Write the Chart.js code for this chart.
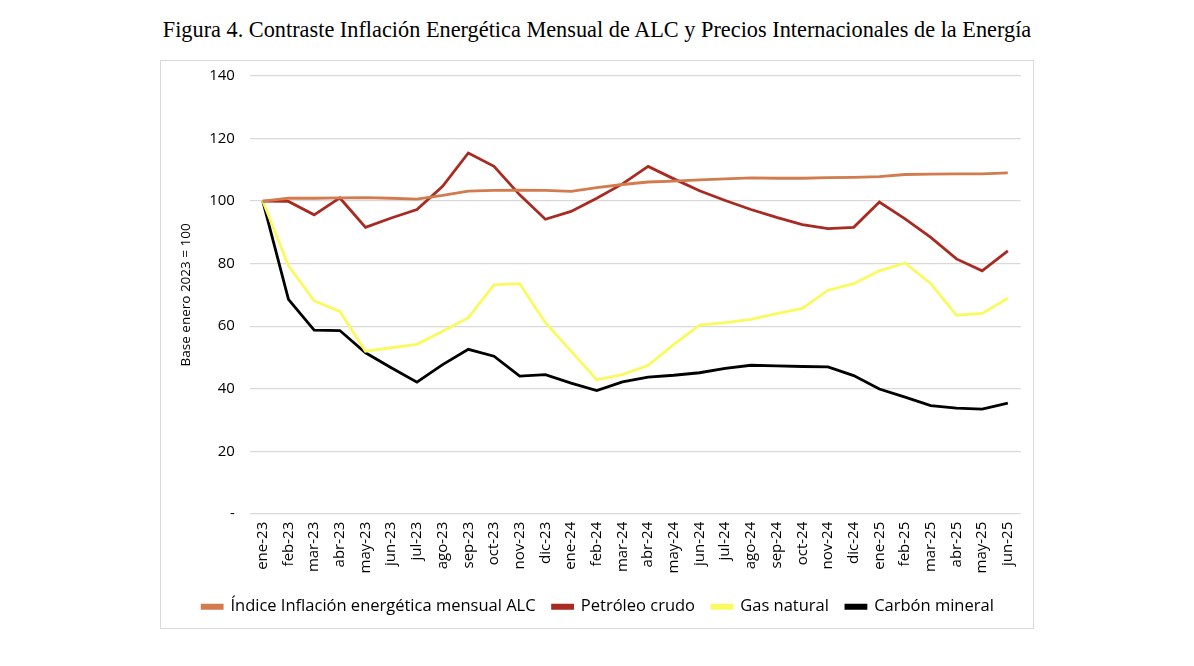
<!DOCTYPE html>
<html>
<head>
<meta charset="utf-8">
<script src="https://cdn.jsdelivr.net/npm/chart.js@4/dist/chart.umd.min.js"></script>
<style>
  body { margin: 0; background: #fff; width: 1194px; height: 666px; position: relative; }
  #titulo {
    position: absolute; left: 0; top: 17px; width: 1194px; text-align: center;
    font-family: "Liberation Serif", "DejaVu Serif", serif; font-size: 22.3px; color: #000;
  }
  #caja {
    position: absolute; left: 160px; top: 60px; width: 874px; height: 569px;
    border: 1px solid #d9d9d9; box-sizing: border-box;
  }
  #lienzo { position: absolute; left: 160px; top: 52px; width: 874px; height: 573px; }
</style>
</head>
<body>
<div id="titulo">Figura 4. Contraste Inflación Energética Mensual de ALC y Precios Internacionales de la Energía</div>
<div id="caja"></div>
<div id="lienzo"><canvas id="grafico"></canvas></div>
<script>
// Meses (eje X)
const meses = ['ene-23','feb-23','mar-23','abr-23','may-23','jun-23','jul-23','ago-23','sep-23','oct-23','nov-23','dic-23',
  'ene-24','feb-24','mar-24','abr-24','may-24','jun-24','jul-24','ago-24','sep-24','oct-24','nov-24','dic-24',
  'ene-25','feb-25','mar-25','abr-25','may-25','jun-25'];

// Series (base enero 2023 = 100)
const indiceALC = [100, 100.9, 100.9, 101.0, 101.1, 100.9, 100.6, 101.8, 103.2, 103.4, 103.5, 103.4,
  103.1, 104.3, 105.3, 106.1, 106.4, 106.8, 107.1, 107.4, 107.3, 107.3, 107.5, 107.6,
  107.8, 108.5, 108.6, 108.7, 108.7, 109.0];
const petroleo = [100, 99.9, 95.6, 101.0, 91.6, 94.6, 97.3, 104.7, 115.4, 111.1, 102.0, 94.2,
  96.7, 100.9, 105.5, 111.1, 107.1, 103.3, 100.2, 97.3, 94.8, 92.5, 91.2, 91.6,
  99.7, 94.3, 88.4, 81.5, 77.7, 84.1];
const gasNatural = [100, 79.3, 68.1, 64.7, 52.0, 53.1, 54.2, 58.4, 62.7, 73.2, 73.6, 61.1,
  52.0, 42.9, 44.5, 47.5, 54.2, 60.3, 61.1, 62.2, 64.0, 65.7, 71.5, 73.6,
  77.7, 80.2, 73.6, 63.5, 64.1, 68.9];
const carbon = [100, 68.6, 58.7, 58.6, 51.5, 46.7, 42.1, 47.7, 52.6, 50.4, 44.0, 44.5,
  41.8, 39.4, 42.2, 43.7, 44.3, 45.1, 46.5, 47.5, 47.3, 47.1, 47.0, 44.2,
  39.9, 37.3, 34.6, 33.8, 33.5, 35.4];

const fuente = '"Open Sans", "Noto Sans", "Liberation Sans", sans-serif';

function serie(nombre, datos, color) {
  return {
    label: nombre,
    data: datos,
    borderColor: color,
    backgroundColor: color,
    borderWidth: 2.8,
    pointRadius: 0,
    tension: 0,
    fill: false
  };
}

const ctx = document.getElementById('grafico').getContext('2d');
new Chart(ctx, {
  type: 'line',
  data: {
    labels: meses,
    datasets: [
      serie('Índice Inflación energética mensual ALC', indiceALC, '#D27B4E'),
      serie('Petróleo crudo', petroleo, '#A82A20'),
      serie('Gas natural', gasNatural, '#FAFA60'),
      serie('Carbón mineral', carbon, '#000000')
    ]
  },
  options: {
    responsive: true,
    maintainAspectRatio: false,
    animation: false,
    layout: { padding: { top: 0, right: 10, bottom: 0, left: 12 } },
    plugins: {
      title: { display: false },
      tooltip: { enabled: false },
      legend: {
        position: 'bottom',
        labels: {
          boxWidth: 20,
          boxHeight: 3,
          padding: 17,
          color: '#000',
          font: { family: fuente, size: 16.5 }
        }
      }
    },
    scales: {
      x: {
        offset: true,
        grid: { display: false, drawTicks: false },
        border: { display: false },
        ticks: {
          autoSkip: false,
          maxRotation: 90,
          minRotation: 90,
          padding: 8,
          color: '#000',
          font: { family: fuente, size: 15 }
        }
      },
      y: {
        min: 0,
        max: 140,
        grid: { color: '#d9d9d9', lineWidth: 1.3, drawTicks: false },
        border: { display: false },
        ticks: {
          stepSize: 20,
          padding: 15,
          color: '#000',
          font: { family: fuente, size: 15 },
          callback: function (v) { return v === 0 ? '-' : v; }
        },
        title: {
          display: true,
          text: 'Base enero 2023 = 100',
          color: '#000',
          font: { family: fuente, size: 13.5 },
          padding: { top: 6, bottom: 0 }
        }
      }
    }
  }
});
</script>
</body>
</html>
